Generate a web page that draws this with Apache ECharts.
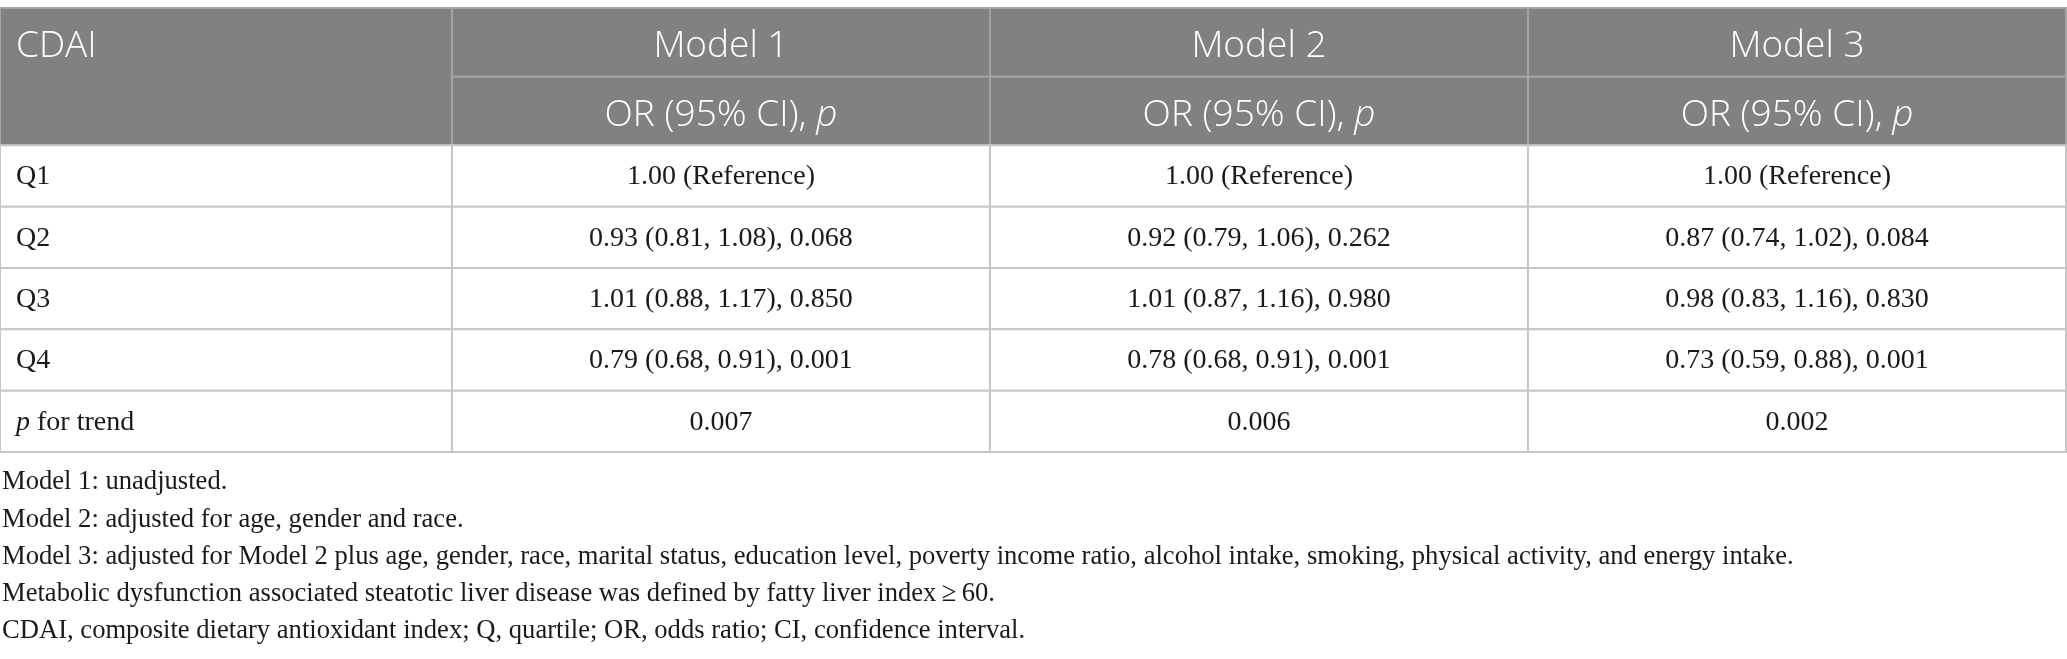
<!DOCTYPE html>
<html>
<head>
<meta charset="utf-8">
<script src="https://cdn.jsdelivr.net/npm/echarts@6/dist/echarts.min.js"></script>
<style>
  html,body{margin:0;padding:0;background:#fff;}
  #main{width:2067px;height:659px;}
</style>
</head>
<body>
<div id="main"></div>
<script>
// table content
var columns = ['CDAI', 'Model 1', 'Model 2', 'Model 3'];
var subHeader = '{n|OR (95% CI), }{i|p}';
var rowLabels = ['Q1', 'Q2', 'Q3', 'Q4', '{i|p}{n| for trend}'];
var model1 = ['1.00 (Reference)', '0.93 (0.81, 1.08), 0.068', '1.01 (0.88, 1.17), 0.850', '0.79 (0.68, 0.91), 0.001', '0.007'];
var model2 = ['1.00 (Reference)', '0.92 (0.79, 1.06), 0.262', '1.01 (0.87, 1.16), 0.980', '0.78 (0.68, 0.91), 0.001', '0.006'];
var model3 = ['1.00 (Reference)', '0.87 (0.74, 1.02), 0.084', '0.98 (0.83, 1.16), 0.830', '0.73 (0.59, 0.88), 0.001', '0.002'];
var notes = [
  'Model 1: unadjusted.',
  'Model 2: adjusted for age, gender and race.',
  'Model 3: adjusted for Model 2 plus age, gender, race, marital status, education level, poverty income ratio, alcohol intake, smoking, physical activity, and energy intake.',
  'Metabolic dysfunction associated steatotic liver disease was defined by fatty liver index\u2009\u2265\u200960.',
  'CDAI, composite dietary antioxidant index; Q, quartile; OR, odds ratio; CI, confidence interval.'
];

// layout in axis units
var colStart = [0, 0.84, 1.84, 2.84, 3.84];
var rowStart = [0, 1.12, 2.24, 3.24, 4.24, 5.24, 6.24, 7.24];

var serif = '"Liberation Serif","Times New Roman",serif';
var sans = '"Open Sans",Lato,sans-serif';

// cells: [col, rowFrom, rowTo, text, kind]
var cells = [];
cells.push([0, 0, 2, columns[0], 'head']);
for (var c = 1; c < 4; c++) {
  cells.push([c, 0, 1, columns[c], 'head']);
  cells.push([c, 1, 2, subHeader, 'head']);
}
var models = [model1, model2, model3];
for (var r = 0; r < rowLabels.length; r++) {
  cells.push([0, r + 2, r + 3, rowLabels[r], 'label']);
  for (var m = 0; m < 3; m++) {
    cells.push([m + 1, r + 2, r + 3, models[m][r], 'body']);
  }
}

function renderCell(params, api) {
  var col = api.value(0), r0 = api.value(1), r1 = api.value(2);
  var cell = cells[params.dataIndex];
  var p0 = api.coord([colStart[col], rowStart[r0]]);
  var p1 = api.coord([colStart[col + 1], rowStart[r1]]);
  var head = cell[4] === 'head';
  var x = p0[0], y = p0[1], w = p1[0] - p0[0], h = p1[1] - p0[1];
  // CDAI sits in the first header row even though the cell spans two
  var ty = y + (head && col === 0 ? (api.coord([0, rowStart[1]])[1] - y) / 2 : h / 2) + (head ? 4 : 1);
  var font = head ? sans : serif;
  var size = head ? 37 : 28;
  var weight = head ? 300 : 'normal';
  var fill = head ? '#ffffff' : '#1a1a1a';
  var left = cell[4] === 'label' || (head && col === 0);
  return {
    type: 'group',
    children: [{
      type: 'rect',
      shape: {x: x, y: y, width: w, height: h},
      style: {fill: head ? '#808180' : '#ffffff', stroke: head ? '#a3a4a3' : '#c6c6c6', lineWidth: 2}
    }, {
      type: 'text',
      x: left ? x + 16 : x + w / 2,
      y: ty,
      style: {
        text: cell[3],
        align: left ? 'left' : 'center',
        verticalAlign: 'middle',
        fontFamily: font, fontSize: size, fontWeight: weight, fill: fill,
        rich: {
          n: {fontFamily: font, fontSize: size, fontWeight: weight, fill: fill},
          i: {fontFamily: font, fontSize: size, fontStyle: 'italic', fontWeight: weight, fill: fill}
        }
      }
    }]
  };
}

var noteEls = notes.map(function (t, i) {
  return {
    type: 'text', left: 2, top: 468 + i * 37.2, scaleX: 0.95,
    style: {text: t, font: '28px ' + serif, fill: '#1a1a1a'}
  };
});

var myChart = echarts.init(document.getElementById('main'));
var option = {
  animation: false,
  grid: {left: 0, right: 1, top: 8, bottom: 207},
  xAxis: {type: 'value', min: 0, max: colStart[4], show: false},
  yAxis: {type: 'value', min: 0, max: rowStart[7], inverse: true, show: false},
  graphic: noteEls,
  series: [{
    type: 'custom',
    renderItem: renderCell,
    data: cells.map(function (d) { return [d[0], d[1], d[2]]; })
  }]
};
myChart.setOption(option);
</script>
</body>
</html>
